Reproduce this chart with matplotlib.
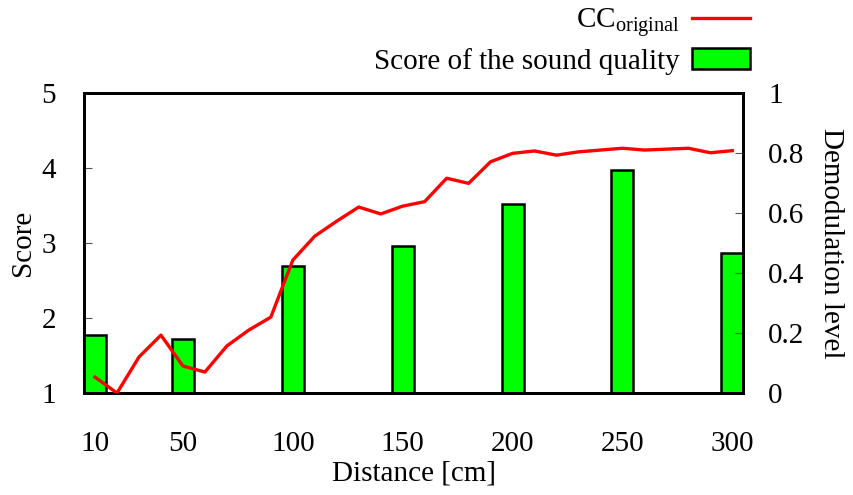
import matplotlib
matplotlib.use('agg')
import numpy as np
import matplotlib.pyplot as plt

plt.rcParams['font.family'] = ['Liberation Serif', 'DejaVu Serif']
plt.rcParams['mathtext.fontset'] = 'custom'
plt.rcParams['mathtext.rm'] = 'Liberation Serif'
plt.rcParams['font.size'] = 21

# subjective score per distance
bar_dist = [10, 50, 100, 150, 200, 250, 300]
score = [1.78, 1.72, 2.69, 2.96, 3.52, 3.97, 2.87]

# correlation coefficient against the original signal, every 10 cm
cc_dist = list(range(10, 301, 10))
cc_orig = [0.053, 0.0, 0.12, 0.193, 0.09, 0.07, 0.157, 0.21, 0.253, 0.443,
           0.523, 0.573, 0.62, 0.597, 0.623, 0.638, 0.716, 0.699, 0.771, 0.799,
           0.807, 0.793, 0.804, 0.81, 0.816, 0.81, 0.813, 0.816, 0.801, 0.808]

fig = plt.figure(figsize=(8.54, 4.95), dpi=100)
ax = fig.add_axes([0.0984, 0.206, 0.772, 0.606])

bars = ax.bar(bar_dist, score, width=10, bottom=0, color='#00ff00',
              edgecolor='black', linewidth=1.8, zorder=2)
ax.set_xlim(5, 305)
ax.set_ylim(1, 5)
ax.set_xticks(bar_dist)
ax.set_yticks([1, 2, 3, 4, 5])
ax.tick_params(axis='x', length=0, pad=27)
ax.tick_params(axis='y', direction='in', length=6, width=0.8, color='#555555', pad=20)
ax.set_xlabel('Distance [cm]', labelpad=3)
ax.set_ylabel('Score', labelpad=4)
for s in ax.spines.values():
    s.set_linewidth(2)

ax2 = ax.twinx()
line, = ax2.plot(cc_dist, cc_orig, color='#ff0000', linewidth=2.4, zorder=3)
ax2.set_ylim(0, 1)
ax2.set_yticks([0, 0.2, 0.4, 0.6, 0.8, 1])
ax2.set_yticklabels(['0', '0.2', '0.4', '0.6', '0.8', '1'])
ax2.tick_params(axis='y', direction='in', length=6, width=0.8, color='#555555', pad=18)
ax2.set_ylabel('Demodulation level', rotation=270, labelpad=28)
for s in ax2.spines.values():
    s.set_linewidth(2)

fig.legend([line, bars], [r'CC$_{\mathrm{original}}$', 'Score of the sound quality'],
           loc='upper right', bbox_to_anchor=(0.892, 1.01), frameon=False,
           markerfirst=False, handlelength=2.0, handletextpad=0.4,
           labelspacing=0.25, borderaxespad=0)

fig.savefig('out.png', dpi=100)
